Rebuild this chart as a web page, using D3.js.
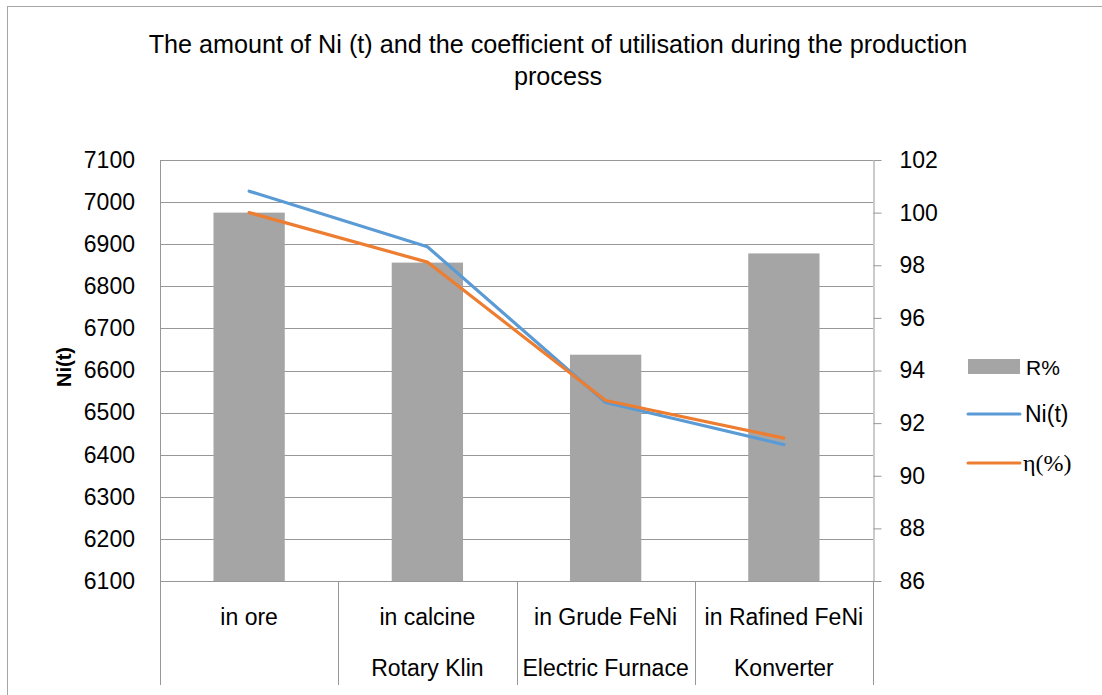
<!DOCTYPE html>
<html>
<head>
<meta charset="utf-8">
<script src="https://cdn.jsdelivr.net/npm/d3@7"></script>
<style>
  body { margin: 0; background: #fff; }
  text { font-family: "Liberation Sans", Arial, sans-serif; fill: #000; }
</style>
</head>
<body>
<div id="chart"></div>
<script>
// data
var categories = ["in ore", "in calcine", "in Grude FeNi", "in Rafined FeNi"];
var stages = ["", "Rotary Klin", "Electric Furnace", "Konverter"];
var rPercent = [100, 98.1, 94.6, 98.45];
var niT = [7026, 6894, 6524, 6424];
var eta = [100, 98.12, 92.86, 91.43];
var leftTicks = [6100, 6200, 6300, 6400, 6500, 6600, 6700, 6800, 6900, 7000, 7100];
var rightTicks = [86, 88, 90, 92, 94, 96, 98, 100, 102];

function init() {
    var w = 1102, h = 695;
    var plot = { left: 160, right: 873, top: 160, bottom: 581 };

    var svg = d3.select("#chart").append("svg")
        .attr("width", w)
        .attr("height", h);

    // chart area border
    svg.append("rect")
        .attr("x", 7.5).attr("y", 6.5)
        .attr("width", w).attr("height", h)
        .attr("fill", "none")
        .attr("stroke", "#a6a6a6");

    // scales
    var xCat = d3.scaleBand().domain(categories).range([plot.left, plot.right]).padding(0);
    var xBar = d3.scaleBand().domain(categories).range([plot.left, plot.right])
        .paddingInner(0.6).paddingOuter(0.3);
    var yLeft = d3.scaleLinear().domain([6100, 7100]).range([plot.bottom, plot.top]);
    var yRight = d3.scaleLinear().domain([86, 102]).range([plot.bottom, plot.top]);

    // gridlines
    svg.append("g")
        .selectAll("line")
        .data(leftTicks)
        .enter()
        .append("line")
        .attr("x1", plot.left).attr("x2", plot.right)
        .attr("y1", d => Math.round(yLeft(d)) + 0.5)
        .attr("y2", d => Math.round(yLeft(d)) + 0.5)
        .attr("stroke", "#979797")
        .attr("stroke-width", 1);

    // left plot edge
    svg.append("line")
        .attr("x1", plot.left + 0.5).attr("x2", plot.left + 0.5)
        .attr("y1", plot.top).attr("y2", plot.bottom)
        .attr("stroke", "#979797");

    // bars (R%) on the right axis
    svg.append("g")
        .selectAll("rect")
        .data(rPercent)
        .enter()
        .append("rect")
        .attr("x", (d, i) => xBar(categories[i]))
        .attr("y", d => yRight(d))
        .attr("width", xBar.bandwidth())
        .attr("height", d => plot.bottom - yRight(d))
        .attr("fill", "#a5a5a5");

    // category axis: bottom line and separators
    svg.append("line")
        .attr("x1", plot.left).attr("x2", plot.right + 8)
        .attr("y1", plot.bottom + 0.5).attr("y2", plot.bottom + 0.5)
        .attr("stroke", "#979797");

    var seps = categories.map(c => xCat(c)).concat([plot.right]);
    svg.append("g")
        .selectAll("line")
        .data(seps)
        .enter()
        .append("line")
        .attr("x1", d => Math.round(d) + 0.5).attr("x2", d => Math.round(d) + 0.5)
        .attr("y1", plot.bottom).attr("y2", 685)
        .attr("stroke", "#979797");

    svg.append("g")
        .selectAll("text")
        .data(categories)
        .enter()
        .append("text")
        .attr("x", d => xCat(d) + xCat.bandwidth() / 2)
        .attr("y", 625)
        .attr("text-anchor", "middle")
        .style("font-size", "23px")
        .text(d => d);

    svg.append("g")
        .selectAll("text")
        .data(stages)
        .enter()
        .append("text")
        .attr("x", (d, i) => xCat(categories[i]) + xCat.bandwidth() / 2)
        .attr("y", 676)
        .attr("text-anchor", "middle")
        .style("font-size", "23px")
        .text(d => d);

    // left axis (labels only)
    var leftAxis = svg.append("g")
        .attr("transform", `translate(${plot.left},0)`)
        .call(d3.axisLeft(yLeft).tickValues(leftTicks).tickSize(0).tickPadding(25).tickFormat(d3.format("d")));
    leftAxis.select(".domain").remove();
    leftAxis.selectAll("text")
        .style("font-size", "23px")
        .style("font-family", "'Liberation Sans', Arial, sans-serif");

    // right axis
    var rightAxis = svg.append("g")
        .attr("transform", `translate(${plot.right + 0.5},0)`)
        .call(d3.axisRight(yRight).tickValues(rightTicks).tickSize(8).tickPadding(18).tickSizeOuter(0));
    rightAxis.select(".domain").attr("stroke", "#979797");
    rightAxis.selectAll(".tick line").attr("stroke", "#979797");
    rightAxis.selectAll("text")
        .style("font-size", "23px")
        .style("font-family", "'Liberation Sans', Arial, sans-serif");

    // lines
    var cx = (d, i) => xCat(categories[i]) + xCat.bandwidth() / 2;

    var niLine = d3.line().x(cx).y(d => yLeft(d));
    svg.append("path")
        .datum(niT)
        .attr("d", niLine)
        .attr("fill", "none")
        .attr("stroke", "#5b9bd5")
        .attr("stroke-width", 3.2)
        .attr("stroke-linecap", "round")
        .attr("stroke-linejoin", "round");

    var etaLine = d3.line().x(cx).y(d => yRight(d));
    svg.append("path")
        .datum(eta)
        .attr("d", etaLine)
        .attr("fill", "none")
        .attr("stroke", "#ed7d31")
        .attr("stroke-width", 3.2)
        .attr("stroke-linecap", "round")
        .attr("stroke-linejoin", "round");

    // title
    svg.append("text")
        .attr("x", 558).attr("y", 53)
        .attr("text-anchor", "middle")
        .style("font-size", "25.2px")
        .text("The amount of Ni (t) and the coefficient of utilisation during the production");
    svg.append("text")
        .attr("x", 558).attr("y", 85)
        .attr("text-anchor", "middle")
        .style("font-size", "25.2px")
        .text("process");

    // y axis title
    svg.append("text")
        .attr("transform", "translate(71,367) rotate(-90)")
        .attr("text-anchor", "middle")
        .style("font-size", "20px")
        .style("font-weight", "bold")
        .text("Ni(t)");

    // legend
    var lg = svg.append("g").attr("transform", "translate(968,0)");
    lg.append("rect")
        .attr("x", 0).attr("y", 359)
        .attr("width", 52).attr("height", 15)
        .attr("fill", "#a5a5a5");
    lg.append("text").attr("x", 58).attr("y", 375).style("font-size", "21px").text("R%");

    lg.append("line")
        .attr("x1", 0).attr("x2", 52).attr("y1", 414).attr("y2", 414)
        .attr("stroke", "#5b9bd5").attr("stroke-width", 3).attr("stroke-linecap", "round");
    lg.append("text").attr("x", 57).attr("y", 422).style("font-size", "23px").text("Ni(t)");

    lg.append("line")
        .attr("x1", 0).attr("x2", 52).attr("y1", 463).attr("y2", 463)
        .attr("stroke", "#ed7d31").attr("stroke-width", 3).attr("stroke-linecap", "round");
    lg.append("text").attr("x", 55).attr("y", 471)
        .style("font-size", "24px")
        .style("font-family", "'Liberation Serif', 'Times New Roman', serif")
        .text("η(%)");
}

window.onload = init;
</script>
</body>
</html>
